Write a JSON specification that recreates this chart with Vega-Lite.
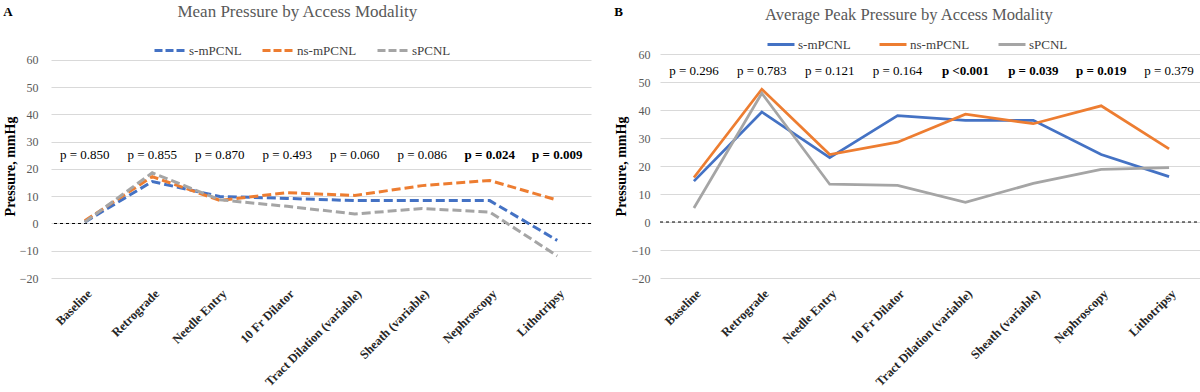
{
  "$schema": "https://vega.github.io/schema/vega-lite/v6.json",
  "padding": {"left": 3, "top": 2, "right": 2, "bottom": 2},
  "background": "white",
  "config": {
    "font": "Liberation Serif",
    "view": {"stroke": null},
    "axisY": {
      "grid": true, "gridColor": "#d9d9d9", "domain": false, "ticks": false,
      "labelFontSize": 12, "labelColor": "#595959",
      "titleFontSize": 14, "titleFontWeight": "bold", "titleColor": "#000000",
      "values": [-20, -10, 0, 10, 20, 30, 40, 50, 60]
    },
    "axisX": {
      "grid": false, "domain": false, "ticks": false, "labelAngle": -45,
      "labelFontSize": 12.5, "labelFontWeight": "bold", "labelColor": "#262626", "labelPadding": 9
    },
    "title": {"font": "Liberation Serif"},
    "legend": {"font": "Liberation Serif", "padding": 0}
  },
  "datasets": {
    "mean": [
      {"step": "Baseline", "group": "s-mPCNL", "value": 0.5},
      {"step": "Retrograde", "group": "s-mPCNL", "value": 15.4},
      {"step": "Needle Entry", "group": "s-mPCNL", "value": 9.9},
      {"step": "10 Fr Dilator", "group": "s-mPCNL", "value": 9.2},
      {"step": "Tract Dilation (variable)", "group": "s-mPCNL", "value": 8.4},
      {"step": "Sheath (variable)", "group": "s-mPCNL", "value": 8.4},
      {"step": "Nephroscopy", "group": "s-mPCNL", "value": 8.4},
      {"step": "Lithotripsy", "group": "s-mPCNL", "value": -6.2},
      {"step": "Baseline", "group": "ns-mPCNL", "value": 1},
      {"step": "Retrograde", "group": "ns-mPCNL", "value": 17.2},
      {"step": "Needle Entry", "group": "ns-mPCNL", "value": 8.5},
      {"step": "10 Fr Dilator", "group": "ns-mPCNL", "value": 11.3},
      {"step": "Tract Dilation (variable)", "group": "ns-mPCNL", "value": 10.3},
      {"step": "Sheath (variable)", "group": "ns-mPCNL", "value": 13.9},
      {"step": "Nephroscopy", "group": "ns-mPCNL", "value": 15.8},
      {"step": "Lithotripsy", "group": "ns-mPCNL", "value": 8.6},
      {"step": "Baseline", "group": "sPCNL", "value": 0.5},
      {"step": "Retrograde", "group": "sPCNL", "value": 18.6},
      {"step": "Needle Entry", "group": "sPCNL", "value": 8.7},
      {"step": "10 Fr Dilator", "group": "sPCNL", "value": 6.3},
      {"step": "Tract Dilation (variable)", "group": "sPCNL", "value": 3.5},
      {"step": "Sheath (variable)", "group": "sPCNL", "value": 5.5},
      {"step": "Nephroscopy", "group": "sPCNL", "value": 4.2},
      {"step": "Lithotripsy", "group": "sPCNL", "value": -11.9}
    ],
    "peak": [
      {"step": "Baseline", "group": "s-mPCNL", "value": 14.6},
      {"step": "Retrograde", "group": "s-mPCNL", "value": 39.3},
      {"step": "Needle Entry", "group": "s-mPCNL", "value": 23},
      {"step": "10 Fr Dilator", "group": "s-mPCNL", "value": 38},
      {"step": "Tract Dilation (variable)", "group": "s-mPCNL", "value": 36.3},
      {"step": "Sheath (variable)", "group": "s-mPCNL", "value": 36.3},
      {"step": "Nephroscopy", "group": "s-mPCNL", "value": 24.1},
      {"step": "Lithotripsy", "group": "s-mPCNL", "value": 16.2},
      {"step": "Baseline", "group": "ns-mPCNL", "value": 15.9},
      {"step": "Retrograde", "group": "ns-mPCNL", "value": 47.4},
      {"step": "Needle Entry", "group": "ns-mPCNL", "value": 24.1},
      {"step": "10 Fr Dilator", "group": "ns-mPCNL", "value": 28.5},
      {"step": "Tract Dilation (variable)", "group": "ns-mPCNL", "value": 38.5},
      {"step": "Sheath (variable)", "group": "ns-mPCNL", "value": 35.1},
      {"step": "Nephroscopy", "group": "ns-mPCNL", "value": 41.5},
      {"step": "Lithotripsy", "group": "ns-mPCNL", "value": 26.1},
      {"step": "Baseline", "group": "sPCNL", "value": 5},
      {"step": "Retrograde", "group": "sPCNL", "value": 46},
      {"step": "Needle Entry", "group": "sPCNL", "value": 13.5},
      {"step": "10 Fr Dilator", "group": "sPCNL", "value": 13.1},
      {"step": "Tract Dilation (variable)", "group": "sPCNL", "value": 7},
      {"step": "Sheath (variable)", "group": "sPCNL", "value": 13.8},
      {"step": "Nephroscopy", "group": "sPCNL", "value": 18.8},
      {"step": "Lithotripsy", "group": "sPCNL", "value": 19.4}
    ],
    "pA": [
      {"step": "Baseline", "label": "p = 0.850", "bold": false},
      {"step": "Retrograde", "label": "p = 0.855", "bold": false},
      {"step": "Needle Entry", "label": "p = 0.870", "bold": false},
      {"step": "10 Fr Dilator", "label": "p = 0.493", "bold": false},
      {"step": "Tract Dilation (variable)", "label": "p = 0.060", "bold": false},
      {"step": "Sheath (variable)", "label": "p = 0.086", "bold": false},
      {"step": "Nephroscopy", "label": "p = 0.024", "bold": true},
      {"step": "Lithotripsy", "label": "p = 0.009", "bold": true}
    ],
    "pB": [
      {"step": "Baseline", "label": "p = 0.296", "bold": false},
      {"step": "Retrograde", "label": "p = 0.783", "bold": false},
      {"step": "Needle Entry", "label": "p = 0.121", "bold": false},
      {"step": "10 Fr Dilator", "label": "p = 0.164", "bold": false},
      {"step": "Tract Dilation (variable)", "label": "p <0.001", "bold": true},
      {"step": "Sheath (variable)", "label": "p = 0.039", "bold": true},
      {"step": "Nephroscopy", "label": "p = 0.019", "bold": true},
      {"step": "Lithotripsy", "label": "p = 0.379", "bold": false}
    ],
    "zero": [{"zero": 0}]
  },
  "spacing": 22,
  "resolve": {"scale": {"color": "independent"}, "legend": {"color": "independent"}},
  "hconcat": [
    {
      "title": {"text": "A", "anchor": "start", "frame": "bounds", "offset": -16, "fontSize": 13, "fontWeight": "bold", "color": "#000000"},
      "vconcat": [
        {
          "width": 540,
          "height": 224,
          "title": {"text": "Mean Pressure by Access Modality", "fontSize": 17, "fontWeight": "normal", "color": "#595959", "offset": 33, "anchor": "middle", "frame": "bounds"},
          "encoding": {
            "x": {"field": "step", "type": "ordinal", "sort": null, "scale": {"type": "point", "padding": 0.5}, "title": null},
            "y": {"type": "quantitative", "scale": {"domain": [-20, 62.2], "nice": false}, "title": "Pressure, mmHg", "axis": {"labelPadding": 13, "titlePadding": 2}}
          },
          "layer": [
            {
              "data": {"name": "zero"},
              "mark": {"type": "rule", "color": "#000000", "strokeDash": [3, 3], "strokeWidth": 1},
              "encoding": {"x": null, "y": {"field": "zero", "type": "quantitative"}}
            },
            {
              "data": {"name": "mean"},
              "mark": {"type": "line", "strokeWidth": 3, "strokeDash": [9, 4]},
              "encoding": {
                "y": {"field": "value", "type": "quantitative"},
                "color": {
                  "field": "group", "type": "nominal",
                  "scale": {"domain": ["s-mPCNL", "ns-mPCNL", "sPCNL"], "range": ["#4472C4", "#ED7D31", "#A5A5A5"]},
                  "legend": {"orient": "none", "direction": "horizontal", "legendX": 102, "legendY": -20.5, "title": null,
                    "gridAlign": "none",
                    "symbolType": "stroke", "symbolSize": 961, "symbolStrokeWidth": 3, "symbolDash": [8, 3],
                    "labelFontSize": 13, "labelColor": "#404040", "labelOffset": 2, "columnPadding": 14}
                }
              }
            },
            {
              "data": {"name": "pA"},
              "transform": [{"filter": "!datum.bold"}],
              "mark": {"type": "text", "fontSize": 13, "color": "#000000"},
              "encoding": {"y": {"datum": 25}, "text": {"field": "label"}}
            },
            {
              "data": {"name": "pA"},
              "transform": [{"filter": "datum.bold"}],
              "mark": {"type": "text", "fontSize": 13, "fontWeight": "bold", "color": "#000000"},
              "encoding": {"y": {"datum": 25}, "text": {"field": "label"}}
            }
          ]
        }
      ]
    },
    {
      "title": {"text": "B", "anchor": "start", "frame": "bounds", "offset": -12, "fontSize": 13, "fontWeight": "bold", "color": "#000000"},
      "vconcat": [
        {
          "width": 543,
          "height": 224,
          "title": {"text": "Average Peak Pressure by Access Modality", "fontSize": 16.6, "fontWeight": "normal", "color": "#595959", "offset": 24.5, "anchor": "middle", "frame": "bounds"},
          "encoding": {
            "x": {"field": "step", "type": "ordinal", "sort": null, "scale": {"type": "point", "padding": 0.5}, "title": null},
            "y": {"type": "quantitative", "scale": {"domain": [-20, 60], "nice": false}, "title": "Pressure, mmHg", "axis": {"labelPadding": 10, "titlePadding": 3}}
          },
          "layer": [
            {
              "data": {"name": "zero"},
              "mark": {"type": "rule", "color": "#000000", "strokeDash": [3, 3], "strokeWidth": 1},
              "encoding": {"x": null, "y": {"field": "zero", "type": "quantitative"}}
            },
            {
              "data": {"name": "peak"},
              "mark": {"type": "line", "strokeWidth": 2.75},
              "encoding": {
                "y": {"field": "value", "type": "quantitative"},
                "color": {
                  "field": "group", "type": "nominal",
                  "scale": {"domain": ["s-mPCNL", "ns-mPCNL", "sPCNL"], "range": ["#4472C4", "#ED7D31", "#A5A5A5"]},
                  "legend": {"orient": "none", "direction": "horizontal", "legendX": 106, "legendY": -24.5, "title": null,
                    "gridAlign": "none",
                    "symbolType": "stroke", "symbolSize": 729, "symbolStrokeWidth": 3,
                    "labelFontSize": 13, "labelColor": "#404040", "labelOffset": 2, "columnPadding": 22}
                }
              }
            },
            {
              "data": {"name": "pB"},
              "transform": [{"filter": "!datum.bold"}],
              "mark": {"type": "text", "fontSize": 13, "color": "#000000"},
              "encoding": {"y": {"datum": 54}, "text": {"field": "label"}}
            },
            {
              "data": {"name": "pB"},
              "transform": [{"filter": "datum.bold"}],
              "mark": {"type": "text", "fontSize": 13, "fontWeight": "bold", "color": "#000000"},
              "encoding": {"y": {"datum": 54}, "text": {"field": "label"}}
            }
          ]
        }
      ]
    }
  ]
}
